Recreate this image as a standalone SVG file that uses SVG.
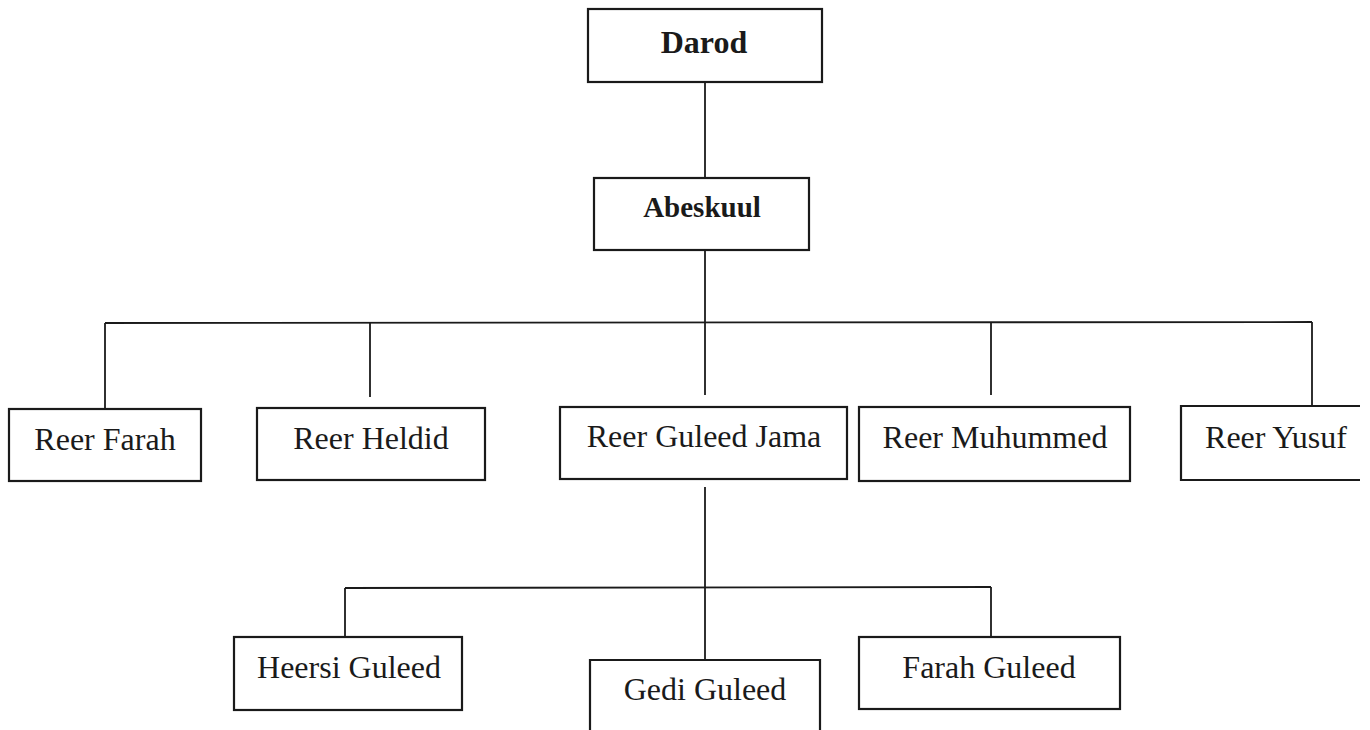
<svg xmlns="http://www.w3.org/2000/svg" width="1370" height="730" viewBox="0 0 1370 730">
<style>
.box{fill:#fff;stroke:#1a1a1a;stroke-width:2.2}
.ln{stroke:#1a1a1a;stroke-width:1.8;fill:none}
.t{font-family:"Liberation Serif",serif;font-size:32px;fill:#1a1a1a;text-anchor:middle}
.b{font-family:"Liberation Serif",serif;font-weight:bold;fill:#1a1a1a;text-anchor:middle}
</style>
<rect width="1370" height="730" fill="#fff"/>
<g id="connectors" class="ln">
<line x1="705" y1="82" x2="705" y2="178"/>
<line x1="705" y1="250" x2="705" y2="395"/>
<line x1="105" y1="323" x2="1312" y2="322"/>
<line x1="105" y1="323" x2="105" y2="409"/>
<line x1="370" y1="323" x2="370" y2="397"/>
<line x1="991" y1="322" x2="991" y2="395"/>
<line x1="1312" y1="322" x2="1312" y2="406"/>
<line x1="705" y1="487" x2="705" y2="660"/>
<line x1="345" y1="588" x2="991" y2="587"/>
<line x1="345" y1="588" x2="345" y2="637"/>
<line x1="991" y1="587" x2="991" y2="637"/>
</g>
<g id="darod"><rect class="box" x="588" y="9" width="234" height="73"/><text class="b" x="704" y="53" font-size="32">Darod</text></g>
<g id="abeskuul"><rect class="box" x="594" y="178" width="215" height="72"/><text class="b" x="702" y="217" font-size="29">Abeskuul</text></g>
<g id="reer-farah"><rect class="box" x="9" y="409" width="192" height="72"/><text class="t" x="105" y="450">Reer Farah</text></g>
<g id="reer-heldid"><rect class="box" x="257" y="408" width="228" height="72"/><text class="t" x="371" y="449">Reer Heldid</text></g>
<g id="reer-guleed-jama"><rect class="box" x="560" y="407" width="287" height="72"/><text class="t" x="704" y="447">Reer Guleed Jama</text></g>
<g id="reer-muhummed"><rect class="box" x="859" y="407" width="271" height="74"/><text class="t" x="995" y="448">Reer Muhummed</text></g>
<g id="reer-yusuf"><path class="box" fill="none" d="M1360 406 H1181 V480 H1360"/><text class="t" x="1276" y="448">Reer Yusuf</text></g>
<g id="heersi-guleed"><rect class="box" x="234" y="637" width="228" height="73"/><text class="t" x="349" y="678">Heersi Guleed</text></g>
<g id="gedi-guleed"><path class="box" fill="none" d="M590 732 V660 H820 V732"/><text class="t" x="705" y="700">Gedi Guleed</text></g>
<g id="farah-guleed"><rect class="box" x="859" y="637" width="261" height="72"/><text class="t" x="989" y="678">Farah Guleed</text></g>
</svg>
